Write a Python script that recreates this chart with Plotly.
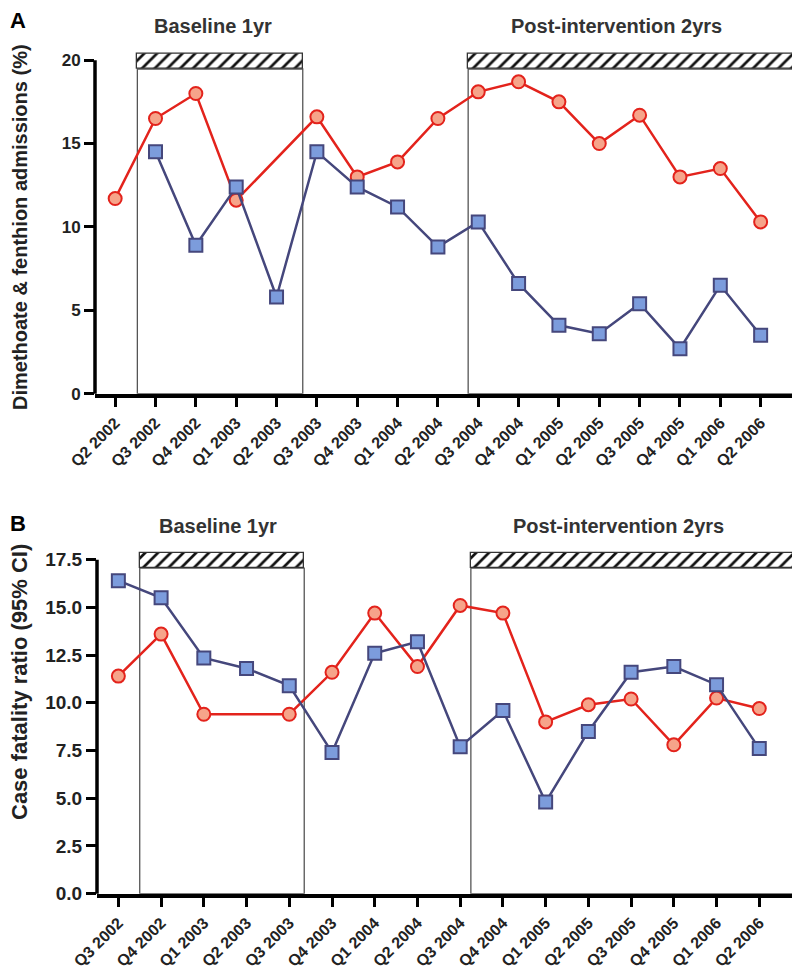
import plotly.graph_objects as go

# ---------------- data ----------------
quarters_a = ["Q2 2002", "Q3 2002", "Q4 2002", "Q1 2003", "Q2 2003", "Q3 2003",
              "Q4 2003", "Q1 2004", "Q2 2004", "Q3 2004", "Q4 2004", "Q1 2005",
              "Q2 2005", "Q3 2005", "Q4 2005", "Q1 2006", "Q2 2006"]
admissions_red = [11.7, 16.5, 18.0, 11.6, None, 16.6, 13.0, 13.9, 16.5, 18.1,
                  18.7, 17.5, 15.0, 16.7, 13.0, 13.5, 10.3]
admissions_blue = [None, 14.5, 8.9, 12.4, 5.8, 14.5, 12.4, 11.2, 8.8, 10.3,
                   6.6, 4.1, 3.6, 5.4, 2.7, 6.5, 3.5]
yticks_a = [0, 5, 10, 15, 20]

quarters_b = ["Q3 2002", "Q4 2002", "Q1 2003", "Q2 2003", "Q3 2003", "Q4 2003",
              "Q1 2004", "Q2 2004", "Q3 2004", "Q4 2004", "Q1 2005", "Q2 2005",
              "Q3 2005", "Q4 2005", "Q1 2006", "Q2 2006"]
cfr_red = [11.4, 13.6, 9.4, None, 9.4, 11.6, 14.7, 11.9, 15.1, 14.7, 9.0, 9.9,
           10.2, 7.8, 10.25, 9.7]
cfr_blue = [16.4, 15.5, 12.35, 11.8, 10.9, 7.4, 12.6, 13.2, 7.7, 9.6, 4.8, 8.5,
            11.6, 11.9, 10.95, 7.6]
yticks_b = [0.0, 2.5, 5.0, 7.5, 10.0, 12.5, 15.0, 17.5]
yticktext_b = ["0.0", "2.5", "5.0", "7.5", "10.0", "12.5", "15.0", "17.5"]

period_labels = ["Baseline 1yr", "Post-intervention 2yrs"]
periods_a = [(0.55, 4.65), (8.75, 17.0)]
periods_b = [(0.5, 4.35), (8.25, 16.05)]
hatch_a = (19.47, 20.38)
hatch_b = (17.06, 17.85)

# ---------------- styles ----------------
RED = "#e3231c"
RED_FILL = "#f6a48a"
BLUE_LINE = "#45477c"
BLUE_FILL = "#7c9cdc"
TXT = "#222222"
FONT = "Liberation Sans, Arial, sans-serif"

fig = go.Figure()


def add_panel(xa, ya, cats, red, blue, periods, hatch):
    n = len(cats)
    idx = list(range(n))
    # hatched period bars
    fig.add_trace(go.Bar(
        x=[(a + b) / 2 for a, b in periods],
        width=[b - a for a, b in periods],
        base=[hatch[0]] * len(periods),
        y=[hatch[1] - hatch[0]] * len(periods),
        marker=dict(color="white",
                    pattern=dict(shape="/", fgcolor="#111111", bgcolor="white",
                                 size=9, solidity=0.3),
                    line=dict(color="#333333", width=1.3)),
        xaxis=xa, yaxis=ya, showlegend=False, hoverinfo="skip"))
    fig.add_trace(go.Scatter(
        x=idx, y=red, mode="lines+markers", connectgaps=True,
        line=dict(color=RED, width=2.5),
        marker=dict(symbol="circle", size=13, color=RED_FILL,
                    line=dict(color=RED, width=2)),
        xaxis=xa, yaxis=ya, showlegend=False))
    fig.add_trace(go.Scatter(
        x=idx, y=blue, mode="lines+markers", connectgaps=True,
        line=dict(color=BLUE_LINE, width=2.5),
        marker=dict(symbol="square", size=13, color=BLUE_FILL,
                    line=dict(color=BLUE_LINE, width=2)),
        xaxis=xa, yaxis=ya, showlegend=False))
    for a, b in periods:
        fig.add_shape(type="rect", xref=xa, yref=ya, x0=a, x1=b, y0=0, y1=hatch[0],
                      line=dict(color="#555555", width=1.3), layer="below")


add_panel("x", "y", quarters_a, admissions_red, admissions_blue, periods_a, hatch_a)
add_panel("x2", "y2", quarters_b, cfr_red, cfr_blue, periods_b, hatch_b)

W, H = 800, 969
rng_a = [0, 20.5]
rng_b = [0, 18.0]

xcommon = dict(showgrid=False, zeroline=False, showline=True, linecolor="black",
               linewidth=3.5, ticks="outside", ticklen=10, tickwidth=3,
               tickcolor="black", tickangle=-45, automargin=False,
               tickfont=dict(family=FONT, size=16, color=TXT, weight="bold"))
ycommon = dict(showgrid=False, zeroline=False, showline=False, ticks="outside",
               ticklen=10, tickwidth=3, tickcolor="black", automargin=False)

fig.update_layout(
    width=W, height=H, template="none",
    margin=dict(l=0, r=0, t=0, b=0),
    paper_bgcolor="white", plot_bgcolor="rgba(0,0,0,0)",
    barmode="overlay", bargap=0,
    xaxis=dict(xcommon, domain=[87 / W, 795 / W], anchor="y",
               range=[-0.5, 17.05], tickvals=list(range(len(quarters_a))),
               ticktext=quarters_a),
    yaxis=dict(ycommon, domain=[1 - 385.7 / H, 1 - 43.8 / H], anchor="x",
               range=rng_a, tickvals=yticks_a,
               tickfont=dict(family=FONT, size=17, color=TXT, weight="bold")),
    xaxis2=dict(xcommon, domain=[89 / W, 797 / W], anchor="y2",
                range=[-0.5, 16.07], tickvals=list(range(len(quarters_b))),
                ticktext=quarters_b),
    yaxis2=dict(ycommon, domain=[1 - 885.7 / H, 1 - 542.1 / H], anchor="x2",
                range=rng_b, tickvals=yticks_b, ticktext=yticktext_b,
                tickfont=dict(family=FONT, size=19, color=TXT, weight="bold")),
)

# y axis lines that stop at the top tick
fig.add_shape(type="line", xref="x domain", yref="y domain", x0=0, x1=0,
              y0=0, y1=yticks_a[-1] / rng_a[1], line=dict(color="black", width=3.5))
fig.add_shape(type="line", xref="x2 domain", yref="y2 domain", x0=0, x1=0,
              y0=0, y1=yticks_b[-1] / rng_b[1], line=dict(color="black", width=3.5))

ann = []


def add_text(text, x, y, size, xref="paper", angle=0, color=TXT):
    ann.append(dict(text="<b>" + text + "</b>", x=x, y=y, xref=xref, yref="paper",
                    xanchor="center", yanchor="middle", textangle=angle,
                    showarrow=False, font=dict(family=FONT, size=size, color=color)))


# panel letters
add_text("A", 10 / W, 1 - 12.5 / H, 22, color="black")
add_text("B", 10 / W, 1 - 515 / H, 22, color="black")
# period titles
add_text(period_labels[0], 2.43, 1 - 18 / H, 20, xref="x", color="#333333")
add_text(period_labels[1], 12.43, 1 - 18 / H, 20, xref="x", color="#333333")
add_text(period_labels[0], 2.33, 1 - 518 / H, 20, xref="x2", color="#333333")
add_text(period_labels[1], 11.71, 1 - 518 / H, 20, xref="x2", color="#333333")
# y axis titles
add_text("Dimethoate & fenthion admissions (%)", 12 / W, 1 - 219 / H, 20, angle=-90)
add_text("Case fatality ratio (95% CI)", 11 / W, 1 - 674 / H, 22, angle=-90)
fig.update_layout(annotations=ann)

fig.write_html("out.html")
